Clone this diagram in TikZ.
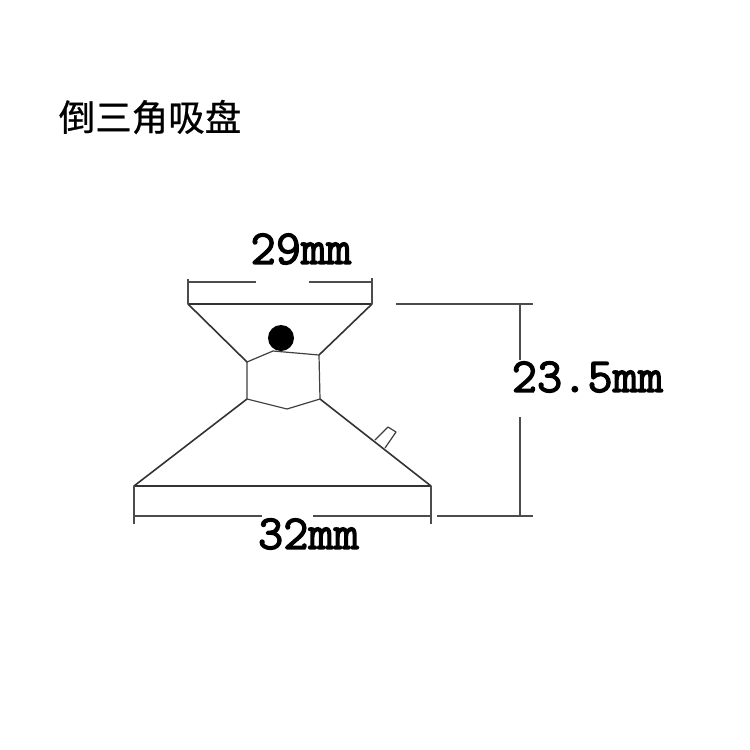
\documentclass[tikz,border=0pt]{standalone}
\usepackage{fontspec}
\newfontfamily\cjk[FakeBold=0.6]{Noto Sans CJK SC}
\newfontfamily\dimfont[FakeBold=2.5]{Latin Modern Mono}
\tikzset{
  body/.style={draw=black!80,line width=1.6pt,line join=round},
  thin body/.style={draw=black!75,line width=1.2pt,line join=round},
  dimline/.style={draw=black!70,line width=1.4pt},
  dimtext/.style={inner sep=0pt,font=\dimfont\fontsize{49}{49}\selectfont},
  titletext/.style={inner sep=0pt,font=\cjk\fontsize{36.5}{36.5}\selectfont}
}
\begin{document}
\begin{tikzpicture}[x=1pt,y=-1pt]
\useasboundingbox (0,0) rectangle (750,750);
\fill[white] (0,0) rectangle (750,750);
\node[titletext,anchor=center] (title) at (150,117) {倒三角吸盘};
% named points
\coordinate (tl) at (188,304);
\coordinate (tr) at (372,304);
\coordinate (hlt) at (247,362);
\coordinate (htm) at (273,351);
\coordinate (hrt) at (319,355);
\coordinate (hrb) at (320,399);
\coordinate (hbm) at (287,409);
\coordinate (hlb) at (247,399);
\coordinate (bl) at (134,486);
\coordinate (br) at (431,486);
% upper cone
\draw[body] (hlt) -- (tl) -- (tr) -- (hrt);
% hexagon neck
\draw[thin body] (hlt) -- (htm) -- (hrt) -- (hrb) -- (hbm) -- (hlb) -- cycle;
% lower cone
\draw[body] (hlb) -- (bl) -- (br) -- (hrb);
% knob
\draw[thin body] (375,440) -- (388,427) -- (396,432) -- (385,448);
% ball
\node[circle,fill=black,minimum size=26pt,inner sep=0pt] (ball) at (281,338) {};
% 29 mm
\coordinate (a1) at (188,279);
\coordinate (a2) at (372,278);
\draw[dimline] (a1) -- (tl);
\draw[dimline] (a2) -- (tr);
\draw[dimline] (188,282) -- (256,282);
\draw[dimline] (309,282) -- (372,282);
\node[dimtext] (t29) at (301,249) {29mm};
% 32 mm
\coordinate (b1) at (134,524);
\coordinate (b2) at (431,524);
\draw[dimline] (bl) -- (b1);
\draw[dimline] (br) -- (b2);
\draw[dimline] (134,516) -- (262,516);
\draw[dimline] (313,516) -- (431,516);
\node[dimtext] (t32) at (308.5,534) {32mm};
% 23.5 mm
\coordinate (c1) at (396,304);
\coordinate (c2) at (533,304);
\coordinate (c3) at (437,516);
\coordinate (c4) at (533,516);
\draw[dimline] (c1) -- (c2);
\draw[dimline] (c3) -- (c4);
\draw[dimline] (520,304) -- (520,360);
\draw[dimline] (520,417) -- (520,516);
\node[dimtext] (t235) at (587.5,377) {23.5mm};
\end{tikzpicture}
\end{document}
